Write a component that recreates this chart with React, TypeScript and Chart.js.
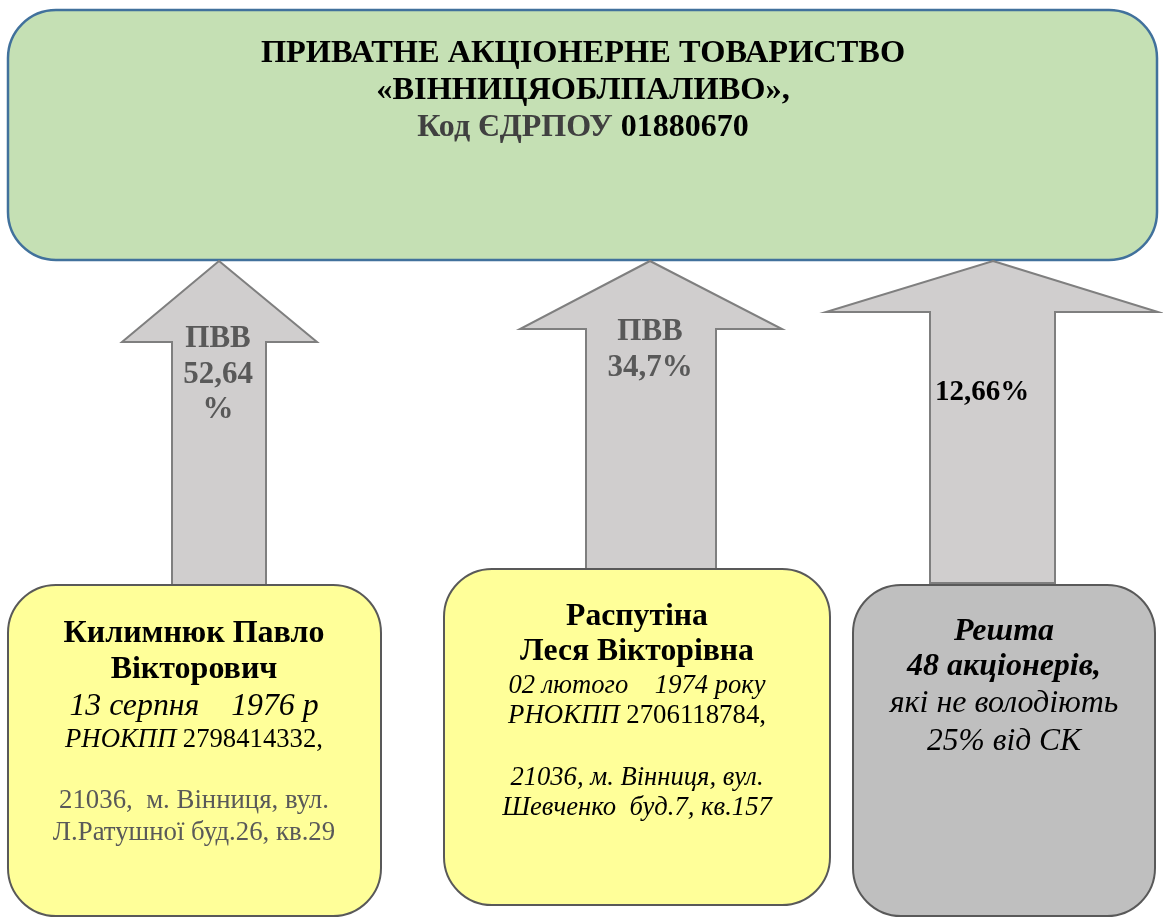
import React, { useEffect, useRef } from 'react';
import { Chart, registerables } from 'chart.js';

Chart.register(...registerables);

const W = 1163;
const H = 917;
const SERIF = "'Liberation Serif', 'Times New Roman', serif";

// ---- data ----
const companyTitle = ['ПРИВАТНЕ АКЦІОНЕРНЕ ТОВАРИСТВО', '«ВІННИЦЯОБЛПАЛИВО»,'];
const edrpouLabel = 'Код ЄДРПОУ ';
const edrpouCode = '01880670';
const shares = [52.64, 34.7, 12.66];
const shareTag = 'ПВВ';
const owner1 = ['Килимнюк Павло', 'Вікторович'];
const owner1Birth = '13 серпня    1976 р';
const owner1Tax = '2798414332,';
const owner1Addr = ['21036,  м. Вінниця, вул.', 'Л.Ратушної буд.26, кв.29'];
const owner2 = ['Распутіна', 'Леся Вікторівна'];
const owner2Birth = '02 лютого    1974 року';
const owner2Tax = '2706118784,';
const owner2Addr = ['21036, м. Вінниця, вул.', 'Шевченко  буд.7, кв.157'];
const restTitle = ['Решта', '48 акціонерів,'];
const restNote = ['які не володіють', '25% від СК'];
const taxLabel = 'РНОКПП ';

const fmt = (v: number) => String(v).replace('.', ',');

// ---- layout ----
type Seg = { t: string; f: string; c: string };
type Line = { y: number; segs: Seg[] };
type Box = { x: number; y: number; w: number; h: number; r: number; fill: string; stroke: string; lw: number; cx: number; lines: Line[] };
type Arrow = { tip: number; top: number; headY: number; headL: number; headR: number; shaftL: number; shaftR: number; bottom: number; cx: number; lines: Line[] };

const b = (s: number) => `bold ${s}px ${SERIF}`;
const n = (s: number) => `${s}px ${SERIF}`;
const i = (s: number) => `italic ${s}px ${SERIF}`;
const bi = (s: number) => `italic bold ${s}px ${SERIF}`;
const GRAY = '#595959';

const topBox: Box = {
  x: 8, y: 10, w: 1149, h: 250, r: 48, fill: '#c5e0b4', stroke: '#41719c', lw: 2.5, cx: 583,
  lines: [
    { y: 62, segs: [{ t: companyTitle[0], f: b(32.4), c: '#000' }] },
    { y: 99, segs: [{ t: companyTitle[1], f: b(32.4), c: '#000' }] },
    { y: 136, segs: [{ t: edrpouLabel, f: b(32), c: '#404040' }, { t: edrpouCode, f: b(32), c: '#000' }] },
  ],
};

const arrows: Arrow[] = [
  {
    tip: 219, top: 261, headY: 342, headL: 122, headR: 317, shaftL: 172, shaftR: 266, bottom: 585, cx: 218,
    lines: [
      { y: 347, segs: [{ t: shareTag, f: b(31), c: GRAY }] },
      { y: 383, segs: [{ t: fmt(shares[0]), f: b(31), c: GRAY }] },
      { y: 418, segs: [{ t: '%', f: b(31), c: GRAY }] },
    ],
  },
  {
    tip: 650, top: 261, headY: 329, headL: 520, headR: 782, shaftL: 586, shaftR: 716, bottom: 569, cx: 650,
    lines: [
      { y: 340, segs: [{ t: shareTag, f: b(31), c: GRAY }] },
      { y: 376, segs: [{ t: fmt(shares[1]) + '%', f: b(31), c: GRAY }] },
    ],
  },
  {
    tip: 993, top: 261, headY: 312, headL: 826, headR: 1158, shaftL: 930, shaftR: 1055, bottom: 583, cx: 982,
    lines: [
      { y: 400, segs: [{ t: fmt(shares[2]) + '%', f: b(29), c: '#000' }] },
    ],
  },
];

const bottomBoxes: Box[] = [
  {
    x: 8, y: 585, w: 373, h: 331, r: 48, fill: '#ffff99', stroke: GRAY, lw: 2, cx: 194,
    lines: [
      { y: 642, segs: [{ t: owner1[0], f: b(32), c: '#000' }] },
      { y: 678, segs: [{ t: owner1[1], f: b(32), c: '#000' }] },
      { y: 715, segs: [{ t: owner1Birth, f: i(31.8), c: '#000' }] },
      { y: 747, segs: [{ t: taxLabel, f: i(26.7), c: '#000' }, { t: owner1Tax, f: n(26.7), c: '#000' }] },
      { y: 808, segs: [{ t: owner1Addr[0], f: n(26.8), c: GRAY }] },
      { y: 840, segs: [{ t: owner1Addr[1], f: n(26.8), c: GRAY }] },
    ],
  },
  {
    x: 444, y: 569, w: 386, h: 336, r: 48, fill: '#ffff99', stroke: GRAY, lw: 2, cx: 637,
    lines: [
      { y: 625, segs: [{ t: owner2[0], f: b(31.7), c: '#000' }] },
      { y: 660, segs: [{ t: owner2[1], f: b(31.7), c: '#000' }] },
      { y: 693, segs: [{ t: owner2Birth, f: i(26.6), c: '#000' }] },
      { y: 723, segs: [{ t: taxLabel, f: i(26.8), c: '#000' }, { t: owner2Tax, f: n(26.8), c: '#000' }] },
      { y: 785, segs: [{ t: owner2Addr[0], f: i(26.6), c: '#000' }] },
      { y: 815, segs: [{ t: owner2Addr[1], f: i(26.7), c: '#000' }] },
    ],
  },
  {
    x: 853, y: 585, w: 302, h: 331, r: 48, fill: '#bfbfbf', stroke: GRAY, lw: 2, cx: 1004,
    lines: [
      { y: 640, segs: [{ t: restTitle[0], f: bi(32), c: '#000' }] },
      { y: 675, segs: [{ t: restTitle[1], f: bi(32), c: '#000' }] },
      { y: 712, segs: [{ t: restNote[0], f: i(32), c: '#000' }] },
      { y: 750, segs: [{ t: restNote[1], f: i(31.5), c: '#000' }] },
    ],
  },
];

const diagramPlugin = {
  id: 'diagram',
  afterDraw(chart: any) {
    const ctx: CanvasRenderingContext2D = chart.ctx;
    const sx = chart.scales.x;
    const sy = chart.scales.y;
    const X = (v: number) => sx.getPixelForValue(v);
    const Y = (v: number) => sy.getPixelForValue(v);

    const drawLines = (cx: number, lines: Line[]) => {
      ctx.textBaseline = 'alphabetic';
      ctx.textAlign = 'left';
      for (const ln of lines) {
        let total = 0;
        const widths = ln.segs.map((s) => {
          ctx.font = s.f;
          const w = ctx.measureText(s.t).width;
          total += w;
          return w;
        });
        let x = X(cx) - total / 2;
        ln.segs.forEach((s, k) => {
          ctx.font = s.f;
          ctx.fillStyle = s.c;
          ctx.fillText(s.t, x, Y(ln.y));
          x += widths[k];
        });
      }
    };

    const drawBox = (bx: Box) => {
      ctx.save();
      const x0 = X(bx.x), x1 = X(bx.x + bx.w);
      const y0 = Y(bx.y), y1 = Y(bx.y + bx.h);
      ctx.beginPath();
      (ctx as any).roundRect(x0, y0, x1 - x0, y1 - y0, bx.r);
      ctx.fillStyle = bx.fill;
      ctx.fill();
      ctx.lineWidth = bx.lw;
      ctx.strokeStyle = bx.stroke;
      ctx.stroke();
      drawLines(bx.cx, bx.lines);
      ctx.restore();
    };

    const drawArrow = (a: Arrow) => {
      ctx.save();
      ctx.beginPath();
      ctx.moveTo(X(a.tip), Y(a.top));
      ctx.lineTo(X(a.headR), Y(a.headY));
      ctx.lineTo(X(a.shaftR), Y(a.headY));
      ctx.lineTo(X(a.shaftR), Y(a.bottom));
      ctx.lineTo(X(a.shaftL), Y(a.bottom));
      ctx.lineTo(X(a.shaftL), Y(a.headY));
      ctx.lineTo(X(a.headL), Y(a.headY));
      ctx.closePath();
      ctx.fillStyle = '#d0cece';
      ctx.fill();
      ctx.lineWidth = 2;
      ctx.lineJoin = 'miter';
      ctx.strokeStyle = '#7f7f7f';
      ctx.stroke();
      drawLines(a.cx, a.lines);
      ctx.restore();
    };

    ctx.save();
    ctx.fillStyle = '#ffffff';
    ctx.fillRect(0, 0, chart.width, chart.height);
    ctx.restore();
    drawBox(topBox);
    arrows.forEach(drawArrow);
    bottomBoxes.forEach(drawBox);
  },
};

export default function App() {
  const ref = useRef<HTMLCanvasElement | null>(null);
  useEffect(() => {
    document.body.style.margin = '0';
    if (!ref.current) return;
    const chart = new Chart(ref.current, {
      type: 'scatter',
      data: {
        datasets: [
          {
            label: 'shares',
            data: arrows.map((a) => ({ x: a.tip, y: a.top })),
            pointRadius: 0,
            showLine: false,
          },
        ],
      },
      options: {
        responsive: false,
        animation: false,
        layout: { padding: 0 },
        plugins: { legend: { display: false }, tooltip: { enabled: false }, title: { display: false } },
        events: [],
        scales: {
          x: { type: 'linear', min: 0, max: W, display: false },
          y: { type: 'linear', min: 0, max: H, reverse: true, display: false },
        },
      },
      plugins: [diagramPlugin],
    });
    return () => chart.destroy();
  }, []);
  return (
    <div style={{ width: W, height: H }}>
      <canvas ref={ref} width={W} height={H} style={{ display: 'block' }} />
    </div>
  );
}
